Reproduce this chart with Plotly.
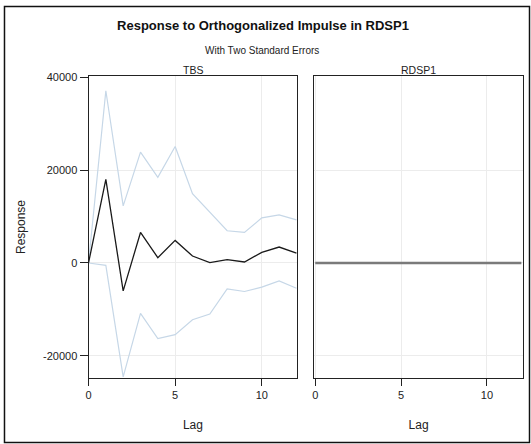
import plotly.graph_objects as go

lags = list(range(13))
tbs_resp = [0, 18000, -6000, 6570, 1140, 4860, 1500, 70, 710, 210, 2290, 3430, 2140]
tbs_upper = [0, 37070, 12290, 23860, 18430, 25070, 14930, 10860, 6930, 6570, 9710, 10360, 9290]
tbs_lower = [0, -500, -24500, -10860, -16290, -15430, -12210, -11000, -5570, -6140, -5210, -3860, -5430]
rdsp_resp = [0] * 13
rdsp_upper = [0] * 13
rdsp_lower = [0] * 13
panel_titles = ["TBS", "RDSP1"]
y_ticks = [-20000, 0, 20000, 40000]
y_ticktext = ["-20000", "0", "20000", "40000"]
x_ticks = [0, 5, 10]

W, H = 531, 444
BAND = "#c6d7e7"
FONT = "Liberation Sans, Arial, sans-serif"

fig = go.Figure()
for y in (tbs_upper, tbs_lower):
    fig.add_trace(go.Scatter(x=lags, y=y, mode="lines", line=dict(color=BAND, width=1.2),
                             xaxis="x", yaxis="y", showlegend=False, hoverinfo="skip"))
fig.add_trace(go.Scatter(x=lags, y=tbs_resp, mode="lines", line=dict(color="#1a1a1a", width=1.3),
                         xaxis="x", yaxis="y", showlegend=False))
for y in (rdsp_upper, rdsp_lower):
    fig.add_trace(go.Scatter(x=lags, y=y, mode="lines", line=dict(color=BAND, width=1.2),
                             xaxis="x2", yaxis="y2", showlegend=False, hoverinfo="skip"))
fig.add_trace(go.Scatter(x=lags, y=rdsp_resp, mode="lines", line=dict(color="#7a7a7a", width=2.4),
                         xaxis="x2", yaxis="y2", showlegend=False))

yr = [-24700, 40200]
ydom = [1 - 377 / H, 1 - 72 / H]
common_x = dict(showline=True, linecolor="#222", linewidth=1, mirror=True, ticks="outside",
                ticklen=7, tickcolor="#222", tickvals=x_ticks, showgrid=True,
                gridcolor="#ececec", gridwidth=1, zeroline=False,
                tickfont=dict(family=FONT, size=11, color="#222"),
                title=dict(text="Lag", font=dict(family=FONT, size=12, color="#222"), standoff=20))
fig.update_layout(
    width=W, height=H, margin=dict(l=0, r=0, t=0, b=0),
    paper_bgcolor="white", plot_bgcolor="white",
    xaxis=dict(domain=[86 / W, 296 / W], range=[0, 12.05], anchor="y", **common_x),
    xaxis2=dict(domain=[313 / W, 523 / W], range=[-0.06, 12.1], anchor="y2", **common_x),
    yaxis=dict(domain=ydom, range=yr, showline=True, linecolor="#222", linewidth=1, mirror=True,
               ticks="outside", ticklen=8, tickcolor="#222", tickvals=y_ticks, ticktext=y_ticktext,
               showgrid=True, gridcolor="#ececec", zeroline=False,
               tickfont=dict(family=FONT, size=11, color="#222"),
               title=dict(text="Response", font=dict(family=FONT, size=12, color="#222"), standoff=14)),
    yaxis2=dict(domain=ydom, range=yr, anchor="x2", showline=True, linecolor="#222", linewidth=1,
                mirror=True, ticks="", showticklabels=False, tickvals=y_ticks,
                showgrid=True, gridcolor="#ececec", zeroline=False),
    title=dict(text="<b>Response to Orthogonalized Impulse in RDSP1</b>", x=263 / W, xanchor="center",
               y=1 - 25 / H, yanchor="middle", font=dict(family=FONT, size=13, color="#111")),
    annotations=[
        dict(text="With Two Standard Errors", x=260 / W, y=1 - 46 / H, xref="paper", yref="paper",
             showarrow=False, font=dict(family=FONT, size=10, color="#222"), xanchor="center", yanchor="middle"),
        dict(text=panel_titles[0], x=191 / W, y=1 - 66 / H, xref="paper", yref="paper",
             showarrow=False, font=dict(family=FONT, size=10.5, color="#222"), xanchor="center", yanchor="middle"),
        dict(text=panel_titles[1], x=418 / W, y=1 - 66 / H, xref="paper", yref="paper",
             showarrow=False, font=dict(family=FONT, size=10.5, color="#222"), xanchor="center", yanchor="middle"),
    ],
    shapes=[dict(type="rect", xref="paper", yref="paper", x0=1.5 / W, x1=529.5 / W,
                 y0=1 - 442.5 / H, y1=1 - 1.5 / H, line=dict(color="#111", width=1.5))],
)
fig.write_html("out.html")
